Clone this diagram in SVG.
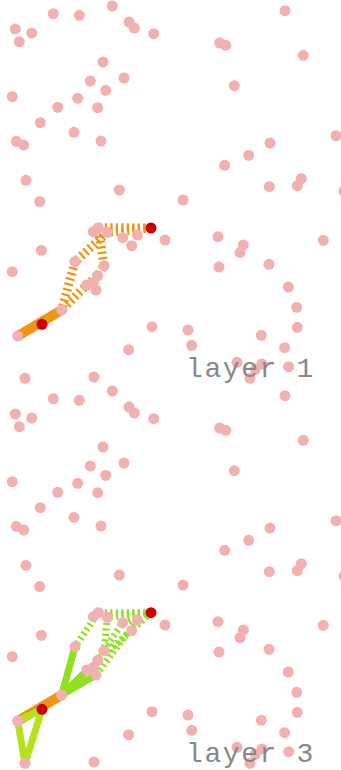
<svg xmlns="http://www.w3.org/2000/svg" width="341" height="770" viewBox="0 0 341 770">
<defs>
<style>
.bg{fill:#ffffff}
.dot{fill:#f2b0b0}
.red{fill:#cc0000}
.or{stroke:#ee9611;stroke-width:10;fill:none;stroke-linecap:butt}
.ord{stroke:#ee9611;stroke-width:9;fill:none;stroke-dasharray:2.2 3.3}
.gr{stroke:#8fe01e;stroke-width:7;fill:none}
.grd{stroke:#8fe01e;stroke-width:7;fill:none;stroke-dasharray:2.2 3.3}
.yg{stroke:#b6e21c;stroke-width:7;fill:none;stroke-linejoin:round}
.lbl{font-family:"Liberation Mono","DejaVu Sans Mono",monospace;font-size:28px;letter-spacing:1.6px;fill:#888888}
</style>
<g id="dots">
<circle cx="15.3" cy="29" r="5.5"/><circle cx="19.3" cy="41.7" r="5.5"/><circle cx="31.7" cy="33" r="5.5"/>
<circle cx="53.3" cy="13.7" r="5.5"/><circle cx="79.3" cy="15.3" r="5.5"/><circle cx="112.3" cy="6" r="5.5"/>
<circle cx="129" cy="22" r="5.5"/><circle cx="134.3" cy="28" r="5.5"/><circle cx="153.7" cy="33.7" r="5.5"/>
<circle cx="103" cy="62" r="5.5"/><circle cx="90.3" cy="81" r="5.5"/><circle cx="124" cy="78" r="5.5"/>
<circle cx="105.7" cy="90.3" r="5.5"/><circle cx="12.3" cy="96.7" r="5.5"/><circle cx="77.7" cy="98.3" r="5.5"/>
<circle cx="57.7" cy="107.3" r="5.5"/><circle cx="97.7" cy="107.7" r="5.5"/><circle cx="40.3" cy="122.7" r="5.5"/>
<circle cx="74" cy="132.3" r="5.5"/><circle cx="16.3" cy="141.3" r="5.5"/><circle cx="23.7" cy="145" r="5.5"/>
<circle cx="101" cy="141" r="5.5"/><circle cx="26" cy="180.3" r="5.5"/><circle cx="119.3" cy="190" r="5.5"/>
<circle cx="39.7" cy="201.5" r="5.5"/><circle cx="183" cy="200" r="5.5"/>
<circle cx="285" cy="10.7" r="5.5"/><circle cx="219.7" cy="43" r="5.5"/><circle cx="225.7" cy="45.3" r="5.5"/>
<circle cx="303.3" cy="55.3" r="5.5"/><circle cx="234.3" cy="85.7" r="5.5"/><circle cx="336" cy="135.7" r="5.5"/>
<circle cx="270" cy="143" r="5.5"/><circle cx="248.7" cy="155.3" r="5.5"/><circle cx="224.7" cy="165.3" r="5.5"/>
<circle cx="301.3" cy="178.7" r="5.5"/><circle cx="297.3" cy="185.7" r="5.5"/><circle cx="269.3" cy="186.7" r="5.5"/>
<circle cx="344" cy="191" r="5.5"/>
<circle cx="98.3" cy="227.7" r="5.5"/><circle cx="93.3" cy="231.7" r="5.5"/><circle cx="107.3" cy="232.3" r="5.5"/>
<circle cx="122.7" cy="237.7" r="5.5"/><circle cx="137.3" cy="235" r="5.5"/><circle cx="131.7" cy="245.7" r="5.5"/>
<circle cx="165" cy="240" r="5.5"/><circle cx="41.3" cy="250.3" r="5.5"/><circle cx="12.3" cy="271.7" r="5.5"/>
<circle cx="75" cy="261.7" r="5.5"/><circle cx="104" cy="265.7" r="5.5"/><circle cx="97.7" cy="275.5" r="5.5"/>
<circle cx="86.7" cy="285" r="5.5"/><circle cx="93.3" cy="282.5" r="5.5"/><circle cx="96" cy="290" r="5.5"/>
<circle cx="61.7" cy="310" r="5.5"/><circle cx="17.7" cy="336" r="5.5"/><circle cx="152" cy="326.7" r="5.5"/>
<circle cx="128.7" cy="349.7" r="5.5"/><circle cx="25" cy="378.3" r="5.5"/><circle cx="94" cy="377" r="5.5"/>
<circle cx="218" cy="236.7" r="5.5"/><circle cx="243.3" cy="245" r="5.5"/><circle cx="240" cy="252.7" r="5.5"/>
<circle cx="323.3" cy="240.3" r="5.5"/><circle cx="219" cy="267" r="5.5"/><circle cx="269" cy="264.3" r="5.5"/>
<circle cx="288.3" cy="287" r="5.5"/><circle cx="296.7" cy="307.3" r="5.5"/><circle cx="297.3" cy="327.3" r="5.5"/>
<circle cx="188" cy="330" r="5.5"/><circle cx="191.7" cy="345.3" r="5.5"/><circle cx="261.3" cy="335.3" r="5.5"/>
<circle cx="284.7" cy="347.7" r="5.5"/><circle cx="237" cy="362.3" r="5.5"/><circle cx="262" cy="364" r="5.5"/>
<circle cx="255.3" cy="369.3" r="5.5"/><circle cx="250" cy="378.3" r="5.5"/><circle cx="288.7" cy="366.7" r="5.5"/>
</g>
</defs>
<rect class="bg" x="0" y="0" width="341" height="770"/>

<g id="panel1">
<g id="connectors1">
<path class="or" d="M17.7,336 L61.7,310"/>
<path class="ord" d="M151,228 L98.3,227.7 L104,265.7 L97.7,275.5 L86.7,285 L61.7,310"/>
<path class="ord" d="M151,228 L107.3,232.3 L75,261.7 L61.7,310"/>
</g>
<g id="nodes1" class="dot">
<use href="#dots"/>
</g>
<g id="node-red-1a"><circle class="red" cx="151" cy="228" r="5.5"/></g>
<g id="node-red-1b"><circle class="red" cx="42" cy="324.3" r="5.5"/></g>
<g id="label1"><text class="lbl" x="186" y="377">layer 1</text></g>
</g>

<g id="panel3">
<g id="connectors3">
<path class="grd" d="M151,612.7 L98.3,612.7 L75,646.7"/>
<path class="grd" d="M151,612.7 L107.3,617.3 L104,650.7"/>
<path class="grd" d="M151,612.7 L131.7,630.7 L96.7,660"/>
<path class="grd" d="M151,612.7 L122.7,622.7 L104,650.7 L96.7,660"/>
<path class="grd" d="M137.3,620 L96,675"/>
<path class="gr" d="M61.7,695 L75,646.7"/>
<path class="gr" d="M61.7,695 L96,675"/>
<path class="gr" d="M61.7,695 L87.3,670"/>
<path class="or" d="M17.7,721 L61.7,695"/>
<path class="yg" d="M17.7,721 L25,763.3 L42,709.3 Z"/>
</g>
<g id="nodes3" class="dot">
<use href="#dots" y="385"/>
</g>
<g id="node-red-3a"><circle class="red" cx="151" cy="612.7" r="5.5"/></g>
<g id="node-red-3b"><circle class="red" cx="42" cy="709.3" r="5.5"/></g>
<g id="label3"><text class="lbl" x="186" y="762">layer 3</text></g>
</g>
</svg>
